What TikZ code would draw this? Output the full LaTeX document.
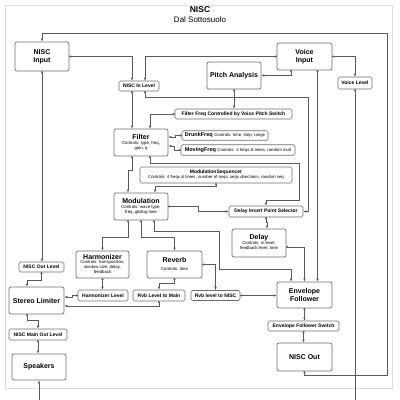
\documentclass[tikz,border=0pt]{standalone}
\usepackage{fontspec}
\setmainfont{Liberation Sans}
\usepackage{tikz}
\usetikzlibrary{arrows.meta}
\definecolor{boxgray}{HTML}{6E6E6E}
\definecolor{linegray}{HTML}{5A5A5A}
\definecolor{framegray}{HTML}{DDDDDD}
\newcommand{\ctl}{\fontsize{4.3}{4.9}\selectfont\mdseries}
\newcommand{\ctlbox}[1]{{\ctl\begin{tabular}{@{}c@{}}#1\end{tabular}}}
\tikzset{blk/.style={draw=boxgray,line width=0.7pt,rounded corners=2pt,fill=white,align=center,inner sep=0pt,font=\fontsize{7}{8}\selectfont\bfseries}}
\tikzset{lvl/.style={blk,line width=0.6pt,rounded corners=1.5pt,font=\fontsize{5}{6}\selectfont\bfseries}}
\tikzset{link/.style={draw=linegray,line width=0.6pt,{Circle[length=2pt]}-{Latex[length=3pt,width=2.6pt]}}}

\begin{document}
\begin{tikzpicture}[x=1pt,y=-1pt]
        \useasboundingbox (0,0) rectangle (400,400);
        \clip (0,0) rectangle (400,400);
        \draw[framegray,line width=0.6pt] (5,5) rectangle (392,388);
        \node[font=\fontsize{8.5}{9}\selectfont\bfseries] (title) at (200,10) {NISC};
        \node[font=\fontsize{8}{9}\selectfont] (sub) at (200,19.5) {Dal Sottosuolo};

        % inputs
        \node[blk,minimum width=54,minimum height=29] (nin) at (42,56.5) {NISC\\Input};
        \node[blk,minimum width=55,minimum height=27] (vin) at (304.5,56.5) {Voice\\Input};
        \node[blk,minimum width=54,minimum height=27] (pa) at (234,75.5) {Pitch Analysis};
        \node[lvl,minimum width=34,minimum height=12] (vlvl) at (355,83) {Voice Level};
        \node[lvl,minimum width=40,minimum height=10] (nil) at (139,86) {NISC In Level};
        \node[lvl,minimum width=117,minimum height=10] (sw) at (233.5,114) {Filter Freq Controlled by Voice Pitch Switch};

        % processing
        \node[blk,minimum width=54,minimum height=27] (filt) at (141,142.5) {Filter\\\ctlbox{Controls: type, freq,\\gain, q}};
        \node[lvl,minimum width=86,minimum height=9.5] (drunk) at (225,135.5) {\fontsize{5.5}{6}\selectfont DrunkFreq {\ctl Controls: time, step, range}};
        \node[lvl,minimum width=114,minimum height=10.5] (mov) at (238,150) {\fontsize{5.5}{6}\selectfont MovingFreq {\ctl Controls: 2 freqs \& times, random mult}};
        \node[lvl,minimum width=152,minimum height=16] (mseq) at (216,175) {ModulationSequencer\\\ctlbox{Controls: 4 freqs \& times, number of seqs, seqs directions, random seq}};
        \node[blk,minimum width=54,minimum height=27] (mod) at (141,206.5) {Modulation\\\ctlbox{Controls: wave type,\\freq, gliding time}};
        \node[lvl,minimum width=74,minimum height=11] (dips) at (266,211.5) {Delay Insert Point Selector};
        \node[blk,minimum width=54,minimum height=28] (delay) at (259,243) {Delay\\\ctlbox{Controls: in level,\\feedback level, time}};
        \node[blk,minimum width=53,minimum height=27] (harm) at (102.5,264.5) {Harmonizer\\\ctlbox{Controls: transposition,\\window size, delay,\\feedback}};
        \node[blk,minimum width=55,minimum height=27] (rev) at (174.5,264.5) {Reverb\\\ctlbox{Controls: time}};
        \node[lvl,minimum width=50,minimum height=11] (hlvl) at (103,295.5) {Harmonizer Level};
        \node[lvl,minimum width=52,minimum height=11] (rmain) at (159,295.5) {Rvb Level to Main};
        \node[lvl,minimum width=49,minimum height=10] (rnisc) at (215.5,295.5) {Rvb level to NISC};

        % outputs
        \node[blk,minimum width=55,minimum height=26] (ef) at (304.5,295) {Envelope\\Follower};
        \node[lvl,minimum width=71,minimum height=10] (efs) at (303.5,326) {Envelope Follower Switch};
        \node[blk,minimum width=55,minimum height=28] (nout) at (304.5,357) {NISC Out};
        \node[lvl,minimum width=45,minimum height=10] (nolvl) at (41.5,267) {NISC Out Level};
        \node[blk,minimum width=55,minimum height=27] (slim) at (36.5,300.5) {Stereo Limiter};
        \node[lvl,minimum width=58,minimum height=11] (nmol) at (38,334.5) {NISC Main Out Level};
        \node[blk,minimum width=54,minimum height=26] (spk) at (39,367) {Speakers};

        % connections
        \draw[link] (nout.south) -- ++(0,4) -| (387,33) -| (nin.north);
        \draw[link] (vlvl.south) -- (355,410) -| (spk.south);
        \draw[link] (nin.east) -| ([xshift=-7]nil.north);
        \draw[link] (vin.west) -| ([xshift=6]nil.north);
        \draw[link] ([xshift=-13.5]vin.south) |- (pa.east);
        \draw[link] (vin.east) -| (vlvl.north);
        \draw[link] ([xshift=13]vin.south) -- ([xshift=13]vin.south |- ef.north);
        \draw[link] (pa.south) -- (pa.south |- sw.north);
        \draw[link] (sw.west) -| ([xshift=9]filt.north);
        \draw[link] ([xshift=-7]nil.south) -- ([xshift=-7]nil.south |- filt.north);
        \draw[link] ([xshift=6]nil.south) |- (308,97) |- (dips.east);
        \draw[link] (drunk.west) -- ++(-6,0) |- ([yshift=5.5]filt.east);
        \draw[link] (mov.west) -- ++(-6,0) |- ([yshift=-3.5]filt.east);
        \draw[link] ([xshift=-9]filt.south) -- ++(0,14) -| ([xshift=-13]mod.north);
        \draw[link] ([xshift=9]filt.south) |- (299,163) |- (266,200) -- (dips.north);
        \draw[link] (mseq.south) -- ++(0,3) -| ([xshift=14]mod.north);
        \draw[link] (mod.east) -- ++(30,0) |- (dips.west);
        \draw[link] (dips.south) -- ++(0,5) -| ([xshift=8]delay.north);
        \draw[link] ([yshift=-4]delay.east) -| (ef.north);
        \draw[link] ([xshift=13]mod.south) -- ++(0,11) -| (219,269) -| ([xshift=-13.5]ef.north);
        \draw[link] ([xshift=-13]mod.south) -- ++(0,17) -| (harm.north);
        \draw[link] (mod.south) -- ++(0,17) -| (rev.north);
        \draw[link] (harm.south) -- (harm.south |- hlvl.north);
        \draw[link] (hlvl.west) -- ++(-5,0) |- ([yshift=3.5]slim.east);
        \draw[link] (rev.south) -- ++(0,5) -| (rmain.north);
        \draw[link] (rmain.south) |- ([yshift=-5.5]slim.east);
        \draw[link] (rev.east) -| (rnisc.north);
        \draw[link] (rnisc.east) -- (rnisc.east -| ef.west);
        \draw[link] (nin.south) -- (nin.south |- nolvl.north);
        \draw[link] (nolvl.south) -- ++(0,8) -| ([xshift=-9.5]slim.north);
        \draw[link] ([xshift=-9.5]slim.south) -- ++(0,6) -| (nmol.north);
        \draw[link] (nmol.south) -- (nmol.south |- spk.north);
        \draw[link] (ef.south) -- (ef.south |- efs.north);
        \draw[link] (efs.south) -- (efs.south |- nout.north);
    \end{tikzpicture}
\end{document}
